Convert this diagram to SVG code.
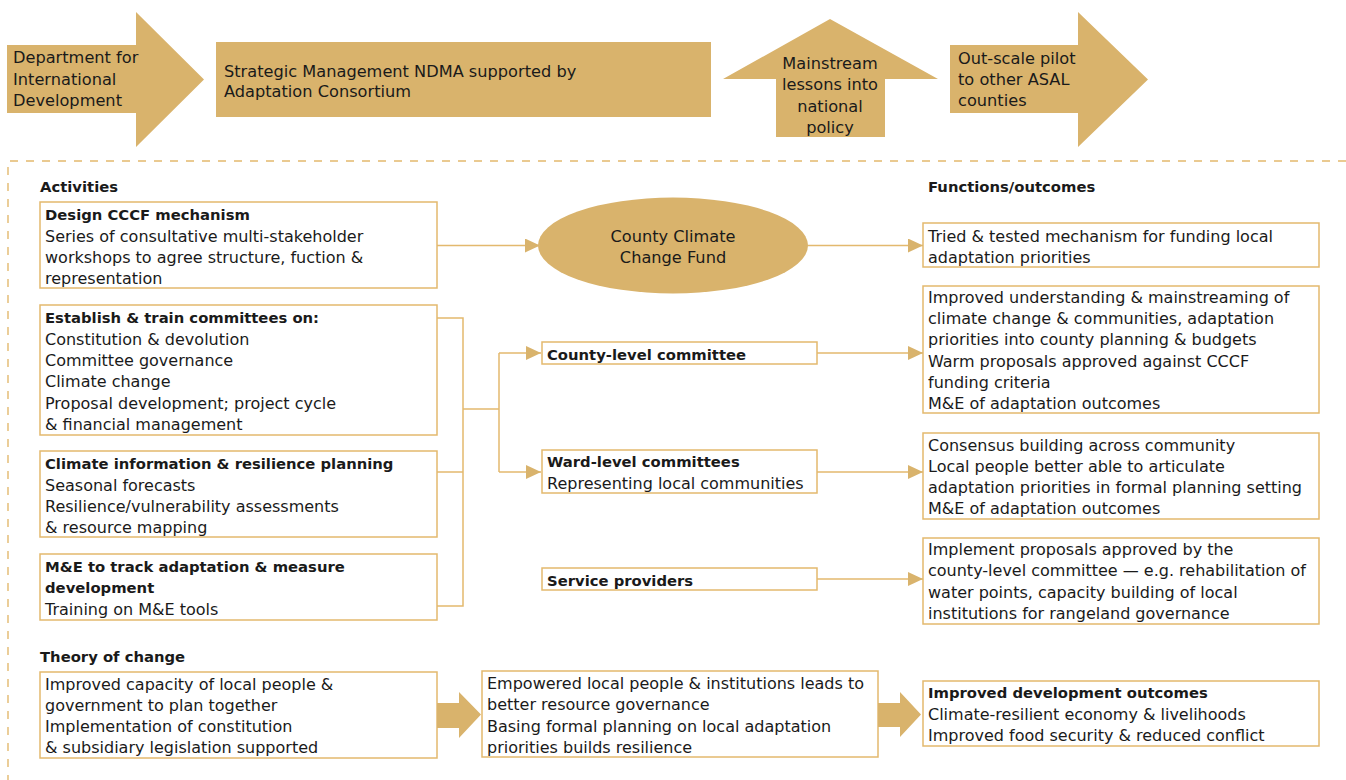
<svg xmlns="http://www.w3.org/2000/svg" width="1346" height="780" viewBox="0 0 1346 780">
<style>
text{font-family:"DejaVu Sans","Liberation Sans",sans-serif;fill:#1a1a1a;font-size:16px}
.t{font-size:16.2px}
.b{font-weight:bold;font-size:14.8px}
.c{text-anchor:middle}
.fill{fill:#d9b36c}
.box{fill:#fff;stroke:#e3b96e;stroke-width:1.5}
.con{fill:none;stroke:#e3b96e;stroke-width:1.5}
.dash{fill:none;stroke:#e3b96e;stroke-width:1.4;stroke-dasharray:8 8}
</style>
<defs>
<marker id="ah" viewBox="0 0 15 14" refX="15" refY="7" markerWidth="15" markerHeight="14" markerUnits="userSpaceOnUse" orient="auto">
<path d="M0,0 L15,7 L0,14 Z" fill="#d9b36c"/>
</marker>
</defs>
<rect width="1346" height="780" fill="#fff"/>

<g id="frame">
<path class="dash" d="M1346,161 H8 V780"/>
</g>

<g id="n-dfid">
<path class="fill" d="M7,45 H136 V12 L204,79.5 L136,147 V113 H7 Z"/>
<text class="t" x="13" y="63">Department for</text>
<text class="t" x="13" y="85">International</text>
<text class="t" x="13" y="106">Development</text>
</g>
<g id="n-ndma">
<rect class="fill" x="216" y="42" width="495" height="75"/>
<text class="t" x="224" y="77">Strategic Management NDMA supported by</text>
<text class="t" x="224" y="97">Adaptation Consortium</text>
</g>
<g id="n-mainstream">
<path class="fill" d="M776,137 V79 H723 L830,19 L938,79 H885 V137 Z"/>
<text class="t c" x="830" y="69">Mainstream</text>
<text class="t c" x="830" y="90">lessons into</text>
<text class="t c" x="830" y="112">national</text>
<text class="t c" x="830" y="133">policy</text>
</g>
<g id="n-outscale">
<path class="fill" d="M950,45 H1078 V12 L1148,79.5 L1078,147 V113 H950 Z"/>
<text class="t" x="958" y="64">Out-scale pilot</text>
<text class="t" x="958" y="85">to other ASAL</text>
<text class="t" x="958" y="106">counties</text>
</g>

<g id="labels">
<text class="b" x="40" y="192">Activities</text>
<text class="b" x="928" y="192">Functions/outcomes</text>
<text class="b" x="40" y="662">Theory of change</text>
</g>

<g id="n-design">
<rect class="box" x="40" y="202" width="397" height="86"/>
<text class="b" x="45" y="220">Design CCCF mechanism</text>
<text x="45" y="242">Series of consultative multi-stakeholder</text>
<text x="45" y="263">workshops to agree structure, fuction &amp;</text>
<text x="45" y="284">representation</text>
</g>
<g id="n-establish">
<rect class="box" x="40" y="305" width="397" height="130"/>
<text class="b" x="45" y="323">Establish &amp; train committees on:</text>
<text x="45" y="345">Constitution &amp; devolution</text>
<text x="45" y="366">Committee governance</text>
<text x="45" y="387">Climate change</text>
<text x="45" y="409">Proposal development; project cycle</text>
<text x="45" y="430">&amp; financial management</text>
</g>
<g id="n-climate">
<rect class="box" x="40" y="451" width="397" height="86"/>
<text class="b" x="45" y="469">Climate information &amp; resilience planning</text>
<text x="45" y="491">Seasonal forecasts</text>
<text x="45" y="512">Resilience/vulnerability assessments</text>
<text x="45" y="533">&amp; resource mapping</text>
</g>
<g id="n-me">
<rect class="box" x="40" y="554" width="397" height="66"/>
<text class="b" x="45" y="572">M&amp;E to track adaptation &amp; measure</text>
<text class="b" x="45" y="593">development</text>
<text x="45" y="615">Training on M&amp;E tools</text>
</g>

<g id="n-fund">
<ellipse class="fill" cx="673" cy="245.5" rx="135" ry="48"/>
<text class="t c" x="673" y="242">County Climate</text>
<text class="t c" x="673" y="263">Change Fund</text>
</g>
<g id="n-county">
<rect class="box" x="542" y="342" width="275" height="22"/>
<text class="b" x="547" y="360">County-level committee</text>
</g>
<g id="n-ward">
<rect class="box" x="542" y="450" width="275" height="43"/>
<text class="b" x="547" y="467">Ward-level committees</text>
<text x="547" y="489">Representing local communities</text>
</g>
<g id="n-service">
<rect class="box" x="542" y="568" width="275" height="22"/>
<text class="b" x="547" y="586">Service providers</text>
</g>

<g id="n-f1">
<rect class="box" x="923" y="223" width="396" height="44"/>
<text x="928" y="242">Tried &amp; tested mechanism for funding local</text>
<text x="928" y="263">adaptation priorities</text>
</g>
<g id="n-f2">
<rect class="box" x="923" y="286" width="396" height="127"/>
<text x="928" y="303">Improved understanding &amp; mainstreaming of</text>
<text x="928" y="324">climate change &amp; communities, adaptation</text>
<text x="928" y="345">priorities into county planning &amp; budgets</text>
<text x="928" y="367">Warm proposals approved against CCCF</text>
<text x="928" y="388">funding criteria</text>
<text x="928" y="409">M&amp;E of adaptation outcomes</text>
</g>
<g id="n-f3">
<rect class="box" x="923" y="433" width="396" height="86"/>
<text x="928" y="451">Consensus building across community</text>
<text x="928" y="472">Local people better able to articulate</text>
<text x="928" y="493">adaptation priorities in formal planning setting</text>
<text x="928" y="514">M&amp;E of adaptation outcomes</text>
</g>
<g id="n-f4">
<rect class="box" x="923" y="538" width="396" height="86"/>
<text x="928" y="555">Implement proposals approved by the</text>
<text x="928" y="576">county-level committee — e.g. rehabilitation of</text>
<text x="928" y="598">water points, capacity building of local</text>
<text x="928" y="619">institutions for rangeland governance</text>
</g>

<g id="n-t1">
<rect class="box" x="40" y="672" width="397" height="86"/>
<text x="45" y="690">Improved capacity of local people &amp;</text>
<text x="45" y="711">government to plan together</text>
<text x="45" y="732">Implementation of constitution</text>
<text x="45" y="753">&amp; subsidiary legislation supported</text>
</g>
<g id="n-t2">
<rect class="box" x="482" y="671" width="396" height="86"/>
<text x="487" y="689">Empowered local people &amp; institutions leads to</text>
<text x="487" y="710">better resource governance</text>
<text x="487" y="732">Basing formal planning on local adaptation</text>
<text x="487" y="753">priorities builds resilience</text>
</g>
<g id="n-t3">
<rect class="box" x="923" y="681" width="396" height="65"/>
<text class="b" x="928" y="698">Improved development outcomes</text>
<text x="928" y="720">Climate-resilient economy &amp; livelihoods</text>
<text x="928" y="741">Improved food security &amp; reduced conflict</text>
</g>

<g id="connectors">
<path class="con" d="M437,245.5 H540" marker-end="url(#ah)"/>
<path class="con" d="M808,245.5 H923" marker-end="url(#ah)"/>
<path class="con" d="M437,318 H463 V606 H437"/>
<path class="con" d="M437,472 H463"/>
<path class="con" d="M463,409 H499"/>
<path class="con" d="M499,353 V472"/>
<path class="con" d="M499,353 H541" marker-end="url(#ah)"/>
<path class="con" d="M499,472 H541" marker-end="url(#ah)"/>
<path class="con" d="M817,353 H923" marker-end="url(#ah)"/>
<path class="con" d="M817,472 H923" marker-end="url(#ah)"/>
<path class="con" d="M817,579 H923" marker-end="url(#ah)"/>
<path class="fill" d="M437,703 H459 V692 L481,714.5 L459,738 V728 H437 Z"/>
<path class="fill" d="M878,703 H900 V692 L921,714.5 L900,737 V727 H878 Z"/>
</g>
</svg>
